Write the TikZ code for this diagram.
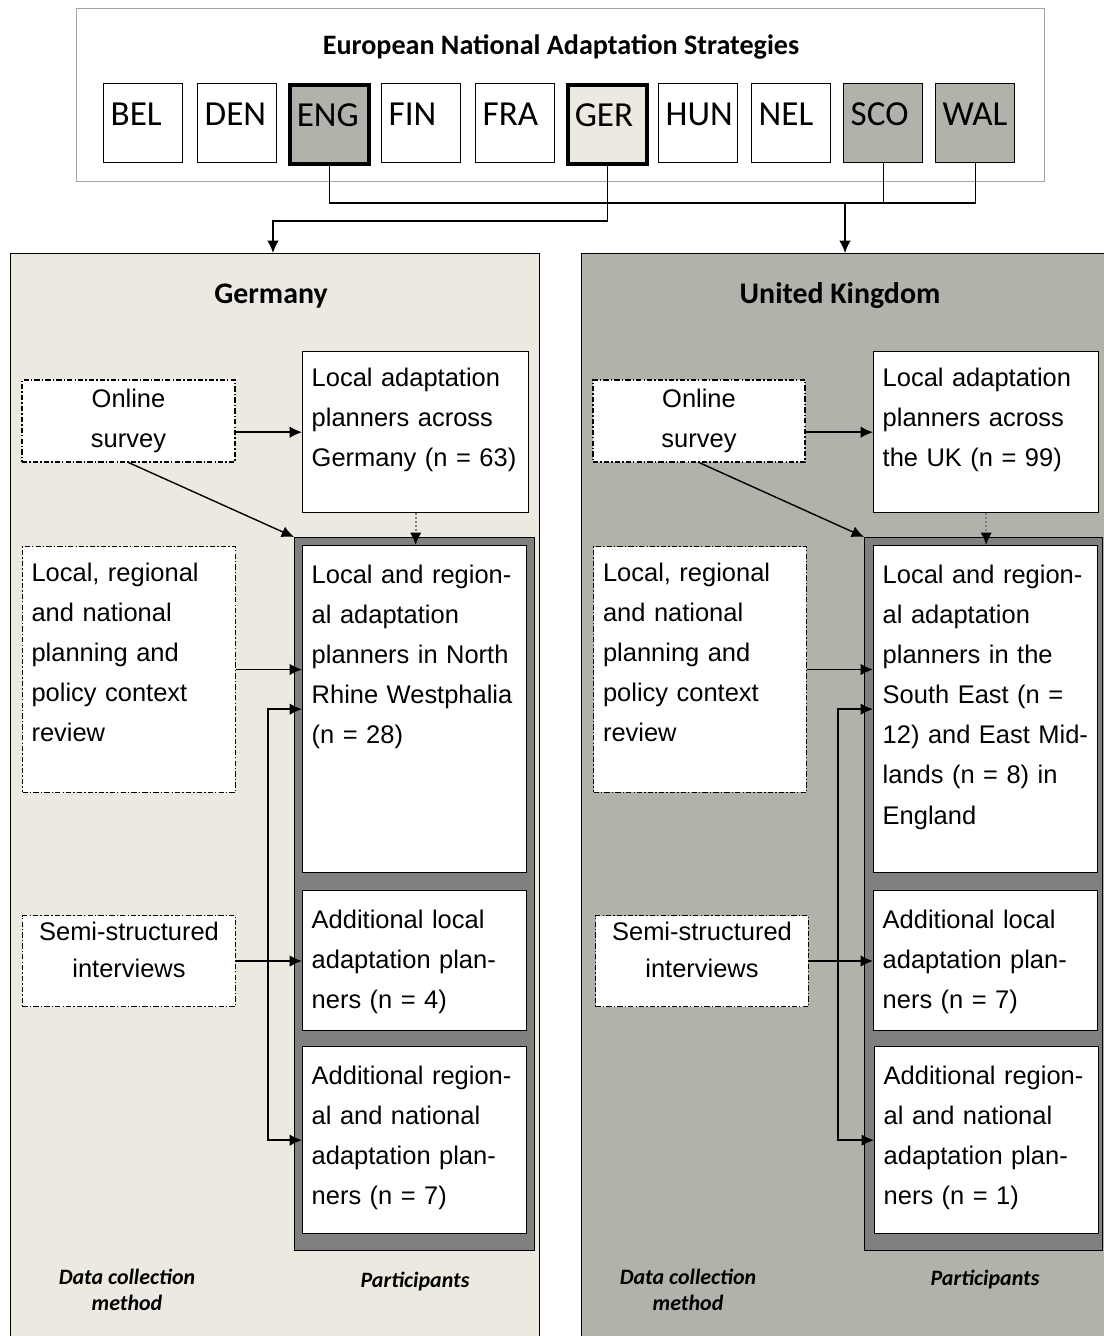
\documentclass[tikz,border=0pt]{standalone}
\usepackage{fontspec}
\setmainfont{Liberation Sans}
\newfontfamily\headfont{Carlito}
\usepackage{tikz}
\usetikzlibrary{positioning, arrows.meta}
\usepackage{xcolor}
\definecolor{gerbeige}{RGB}{236,234,224}
\definecolor{ukgrey}{RGB}{179,178,170}
\definecolor{partgrey}{RGB}{128,128,128}
\definecolor{nasframe}{RGB}{165,165,165}
\newcommand{\bodysize}{\fontsize{14.5}{22.8}\selectfont}
\newcommand{\countryfont}{\headfont\fontsize{20}{24}\selectfont}

\begin{document}
\begin{tikzpicture}[x=0.02cm, y=-0.02cm]
  \tikzset{
    country/.style={
      draw,
      line width=0.8pt,
      fill=white,
      anchor=north west,
      inner xsep=0.14cm,
      inner ysep=0pt,
      text width=1.30cm,
      align=left,
      text height=0.84cm,
      text depth=0.74cm,
      font=\countryfont
    },
    chosen/.style={
      country,
      line width=2pt
    },
    panel/.style={
      draw,
      line width=0.8pt,
      anchor=north west,
      minimum width=11cm,
      minimum height=22cm
    },
    partframe/.style={
      draw,
      line width=0.8pt,
      fill=partgrey,
      anchor=north west,
      minimum width=4.8cm,
      minimum height=14.26cm
    },
    planners/.style={
      draw,
      line width=0.8pt,
      fill=white,
      anchor=north west,
      inner xsep=0.18cm,
      inner ysep=0pt,
      text width=4.12cm,
      align=left,
      text height=0.76cm,
      font=\bodysize
    },
    method/.style={
      draw,
      line width=0.6pt,
      fill=white,
      dash pattern=on 3pt off 1.2pt on 0.8pt off 1.2pt,
      minimum width=4.26cm,
      font=\bodysize
    },
    interview/.style={
      method,
      anchor=north west,
      inner xsep=0.18cm,
      inner ysep=0pt,
      text width=3.9cm,
      align=center,
      text height=0.5cm,
      text depth=1.32cm,
      font=\fontsize{14.5}{21}\selectfont
    },
    review/.style={
      method,
      anchor=north west,
      inner xsep=0.18cm,
      inner ysep=0pt,
      text width=3.9cm,
      align=left,
      text height=0.7cm,
      text depth=4.22cm
    },
    paneltitle/.style={
      font=\headfont\bfseries\fontsize{17}{20}\selectfont
    },
    methodlabel/.style={
      align=center,
      font=\headfont\bfseries\itshape\fontsize{12.5}{14.8}\selectfont
    },
    flow/.style={
      -{Latex[length=7pt,width=6.5pt]},
      line width=0.8pt
    },
    dotflow/.style={
      -{Latex[length=7pt,width=6.5pt,color=black]},
      line width=1.2pt,
      densely dotted,
      draw=gray
    }
  }
  \useasboundingbox (0,0) rectangle (1103,1336);

  % European strategies
  \node[draw=nasframe, line width=0.8pt, anchor=north west,
    minimum width=19.36cm, minimum height=3.46cm] (nas) at (76,8) {};
  \node[font=\headfont\bfseries\fontsize{16}{19}\selectfont] (nastitle) at (561,47) {European National Adaptation Strategies};

  \node[country] (bel) at (103,83) {BEL};
  \node[country] (den) at (197,83) {DEN};
  \node[chosen, fill=ukgrey] (eng) at (288,83) {ENG};
  \node[country] (fin) at (381,83) {FIN};
  \node[country] (fra) at (475,83) {FRA};
  \node[chosen, fill=gerbeige] (ger) at (566,83) {GER};
  \node[country] (hun) at (658,83) {HUN};
  \node[country] (nel) at (751,83) {NEL};
  \node[country, fill=ukgrey] (sco) at (843,83) {SCO};
  \node[country, fill=ukgrey] (wal) at (935,83) {WAL};

  % Country panels
  \node[panel, fill=gerbeige, minimum width=10.58cm] (gerpanel) at (10,253) {};
  \node[panel, fill=ukgrey] (ukpanel) at (581,253) {};

  \coordinate (ukjoin) at (845,203);
  \coordinate (gerturn) at (273,221);
  \draw[line width=0.8pt] (eng.south) |- (ukjoin) -| (wal.south);
  \draw[line width=0.8pt] (sco.south) -- (sco.south |- ukjoin);
  \draw[flow] (ukjoin) -- (ukjoin |- ukpanel.north);
  \draw[flow] (ger.south) |- (gerturn) -- (gerturn |- gerpanel.north);

  % Germany
  \node[paneltitle] (gertitle) at (271,296) {Germany};
  \node[method, minimum height=1.64cm, align=center] (gersurvey) at (128.5,421) {Online\\survey};
  \node[planners, text width=4.16cm, text height=0.7cm, text depth=2.52cm] (gerall) at (302,351)
    {Local adaptation\\planners across\\Germany (n = 63)};
  \node[partframe] (gerpart) at (294,537) {};
  \node[planners, text depth=5.78cm] (gernrw) at (302,545)
    {Local and region-\\al adaptation\\planners in North\\Rhine Westphalia\\(n = 28)};
  \node[planners, text depth=2.04cm] (gerlocal) at (302,890)
    {Additional local\\adaptation plan-\\ners (n = 4)};
  \node[planners, text depth=2.98cm] (gerregnat) at (302,1046)
    {Additional region-\\al and national\\adaptation plan-\\ners (n = 7)};
  \node[review] (gerreview) at (22,546)
    {Local, regional\\and national\\planning and\\policy context\\review};
  \node[interview] (gerinterview) at (22,915)
    {Semi-structured\\interviews};
  \coordinate (gerfork) at (268,960.5);

  \draw[flow] (gersurvey.east |- gerall.west) -- (gerall.west);
  \draw[flow] (gersurvey.south) -- (gerpart.north west);
  \draw[dotflow] (gerall.south) -- (gerall.south |- gernrw.north);
  \draw[flow] (gerreview.east) -- (gerreview.east -| gernrw.west);
  \draw[flow] (gerinterview.east) -- (gerinterview.east -| gerlocal.west);
  \draw[flow] (gerfork) |- (gernrw.west);
  \draw[flow] (gerfork) |- (gerregnat.west);

  \node[methodlabel] (germethod) at (127,1290) {Data collection\\method};
  \node[methodlabel] (gerparticipants) at (415,1281) {Participants};

  % United Kingdom
  \node[paneltitle] (uktitle) at (840,296) {United Kingdom};
  \node[method, minimum height=1.64cm, minimum width=4.24cm, align=center] (uksurvey) at (699,421) {Online\\survey};
  \node[planners, text width=4.14cm, text height=0.7cm, text depth=2.52cm] (ukall) at (873,351)
    {Local adaptation\\planners across\\the UK (n = 99)};
  \node[partframe, minimum width=4.76cm] (ukpart) at (864,537) {};
  \node[planners, text depth=5.78cm] (uknrw) at (873,545)
    {Local and region-\\al adaptation\\planners in the\\South East (n =\\\mbox{12) and East Mid-}\\lands (n = 8) in\\England};
  \node[planners, text depth=2.04cm] (uklocal) at (873,890)
    {Additional local\\adaptation plan-\\ners (n = 7)};
  \node[planners, text depth=2.98cm] (ukregnat) at (874,1046)
    {Additional region-\\al and national\\adaptation plan-\\ners (n = 1)};
  \node[review, text width=3.88cm] (ukreview) at (593,546)
    {Local, regional\\and national\\planning and\\policy context\\review};
  \node[interview] (ukinterview) at (595,915)
    {Semi-structured\\interviews};
  \coordinate (ukfork) at (838,960.5);

  \draw[flow] (uksurvey.east |- ukall.west) -- (ukall.west);
  \draw[flow] (uksurvey.south) -- (ukpart.north west);
  \draw[dotflow] (ukall.south) -- (ukall.south |- uknrw.north);
  \draw[flow] (ukreview.east) -- (ukreview.east -| uknrw.west);
  \draw[flow] (ukinterview.east) -- (ukinterview.east -| uklocal.west);
  \draw[flow] (ukfork) |- (uknrw.west);
  \draw[flow] (ukfork) |- (ukregnat.west);

  \node[methodlabel] (ukmethod) at (688,1290) {Data collection\\method};
  \node[methodlabel] (ukparticipants) at (985,1279) {Participants};
\end{tikzpicture}
\end{document}
